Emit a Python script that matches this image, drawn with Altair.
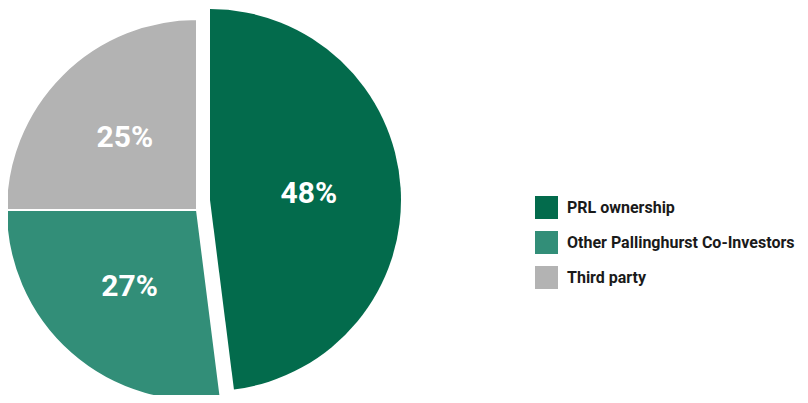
import altair as alt
import pandas as pd

categories = ["PRL ownership", "Other Pallinghurst Co-Investors", "Third party"]
values = [48, 27, 25]
labels = ["48%", "27%", "25%"]
colors = ["#036B4C", "#328E78", "#B3B3B3"]

df = pd.DataFrame({"cat": categories, "value": values, "label": labels, "idx": list(range(len(values)))})
total = sum(values)
FONT = "Roboto, Liberation Sans, sans-serif"

base = alt.Chart(df).transform_window(
    end="sum(value)", sort=[alt.SortField("idx")], frame=[None, 0]
).transform_calculate(
    start="datum.end - datum.value", mid="datum.end - datum.value / 2"
)

tscale = alt.Scale(domain=[0, total])
cscale = alt.Scale(domain=categories, range=colors)
legend = alt.Legend(
    title=None, orient="none", legendX=527, legendY=188, symbolType="square",
    symbolSize=529, symbolStrokeWidth=0, labelFont=FONT, labelFontSize=16,
    labelFontWeight="bold", labelColor="#1a1a1a", rowPadding=12, labelOffset=9,
    padding=0, labelLimit=0,
)

PRL = categories[0]
rest = base.transform_filter(alt.datum.cat != PRL)
main = base.transform_filter(alt.datum.cat == PRL)

rest_arc = rest.mark_arc(radius=191, stroke="white", strokeWidth=2).encode(
    theta=alt.Theta("start:Q", scale=tscale), theta2="end:Q",
    color=alt.Color("cat:N", scale=cscale, legend=legend),
    x=alt.value(189), y=alt.value(202),
)
main_arc = main.mark_arc(radius=191).encode(
    theta=alt.Theta("start:Q", scale=tscale), theta2="end:Q",
    color=alt.Color("cat:N", scale=cscale, legend=legend),
    x=alt.value(202), y=alt.value(192),
)
rest_text = rest.mark_text(radius=102, font=FONT, fontSize=30, fontWeight="bold", color="white").encode(
    theta=alt.Theta("mid:Q", scale=tscale), text="label:N",
    x=alt.value(189), y=alt.value(202),
)
main_text = main.mark_text(radius=99, font=FONT, fontSize=30, fontWeight="bold", color="white").encode(
    theta=alt.Theta("mid:Q", scale=tscale), text="label:N",
    x=alt.value(202), y=alt.value(192),
)

chart = alt.layer(rest_arc, main_arc, rest_text, main_text).properties(
    width=792, height=387, autosize=alt.AutoSizeParams(type="none"), padding=0
).configure_view(stroke=None)

chart.save("out.html", embed_options={"renderer": "svg", "actions": False})
